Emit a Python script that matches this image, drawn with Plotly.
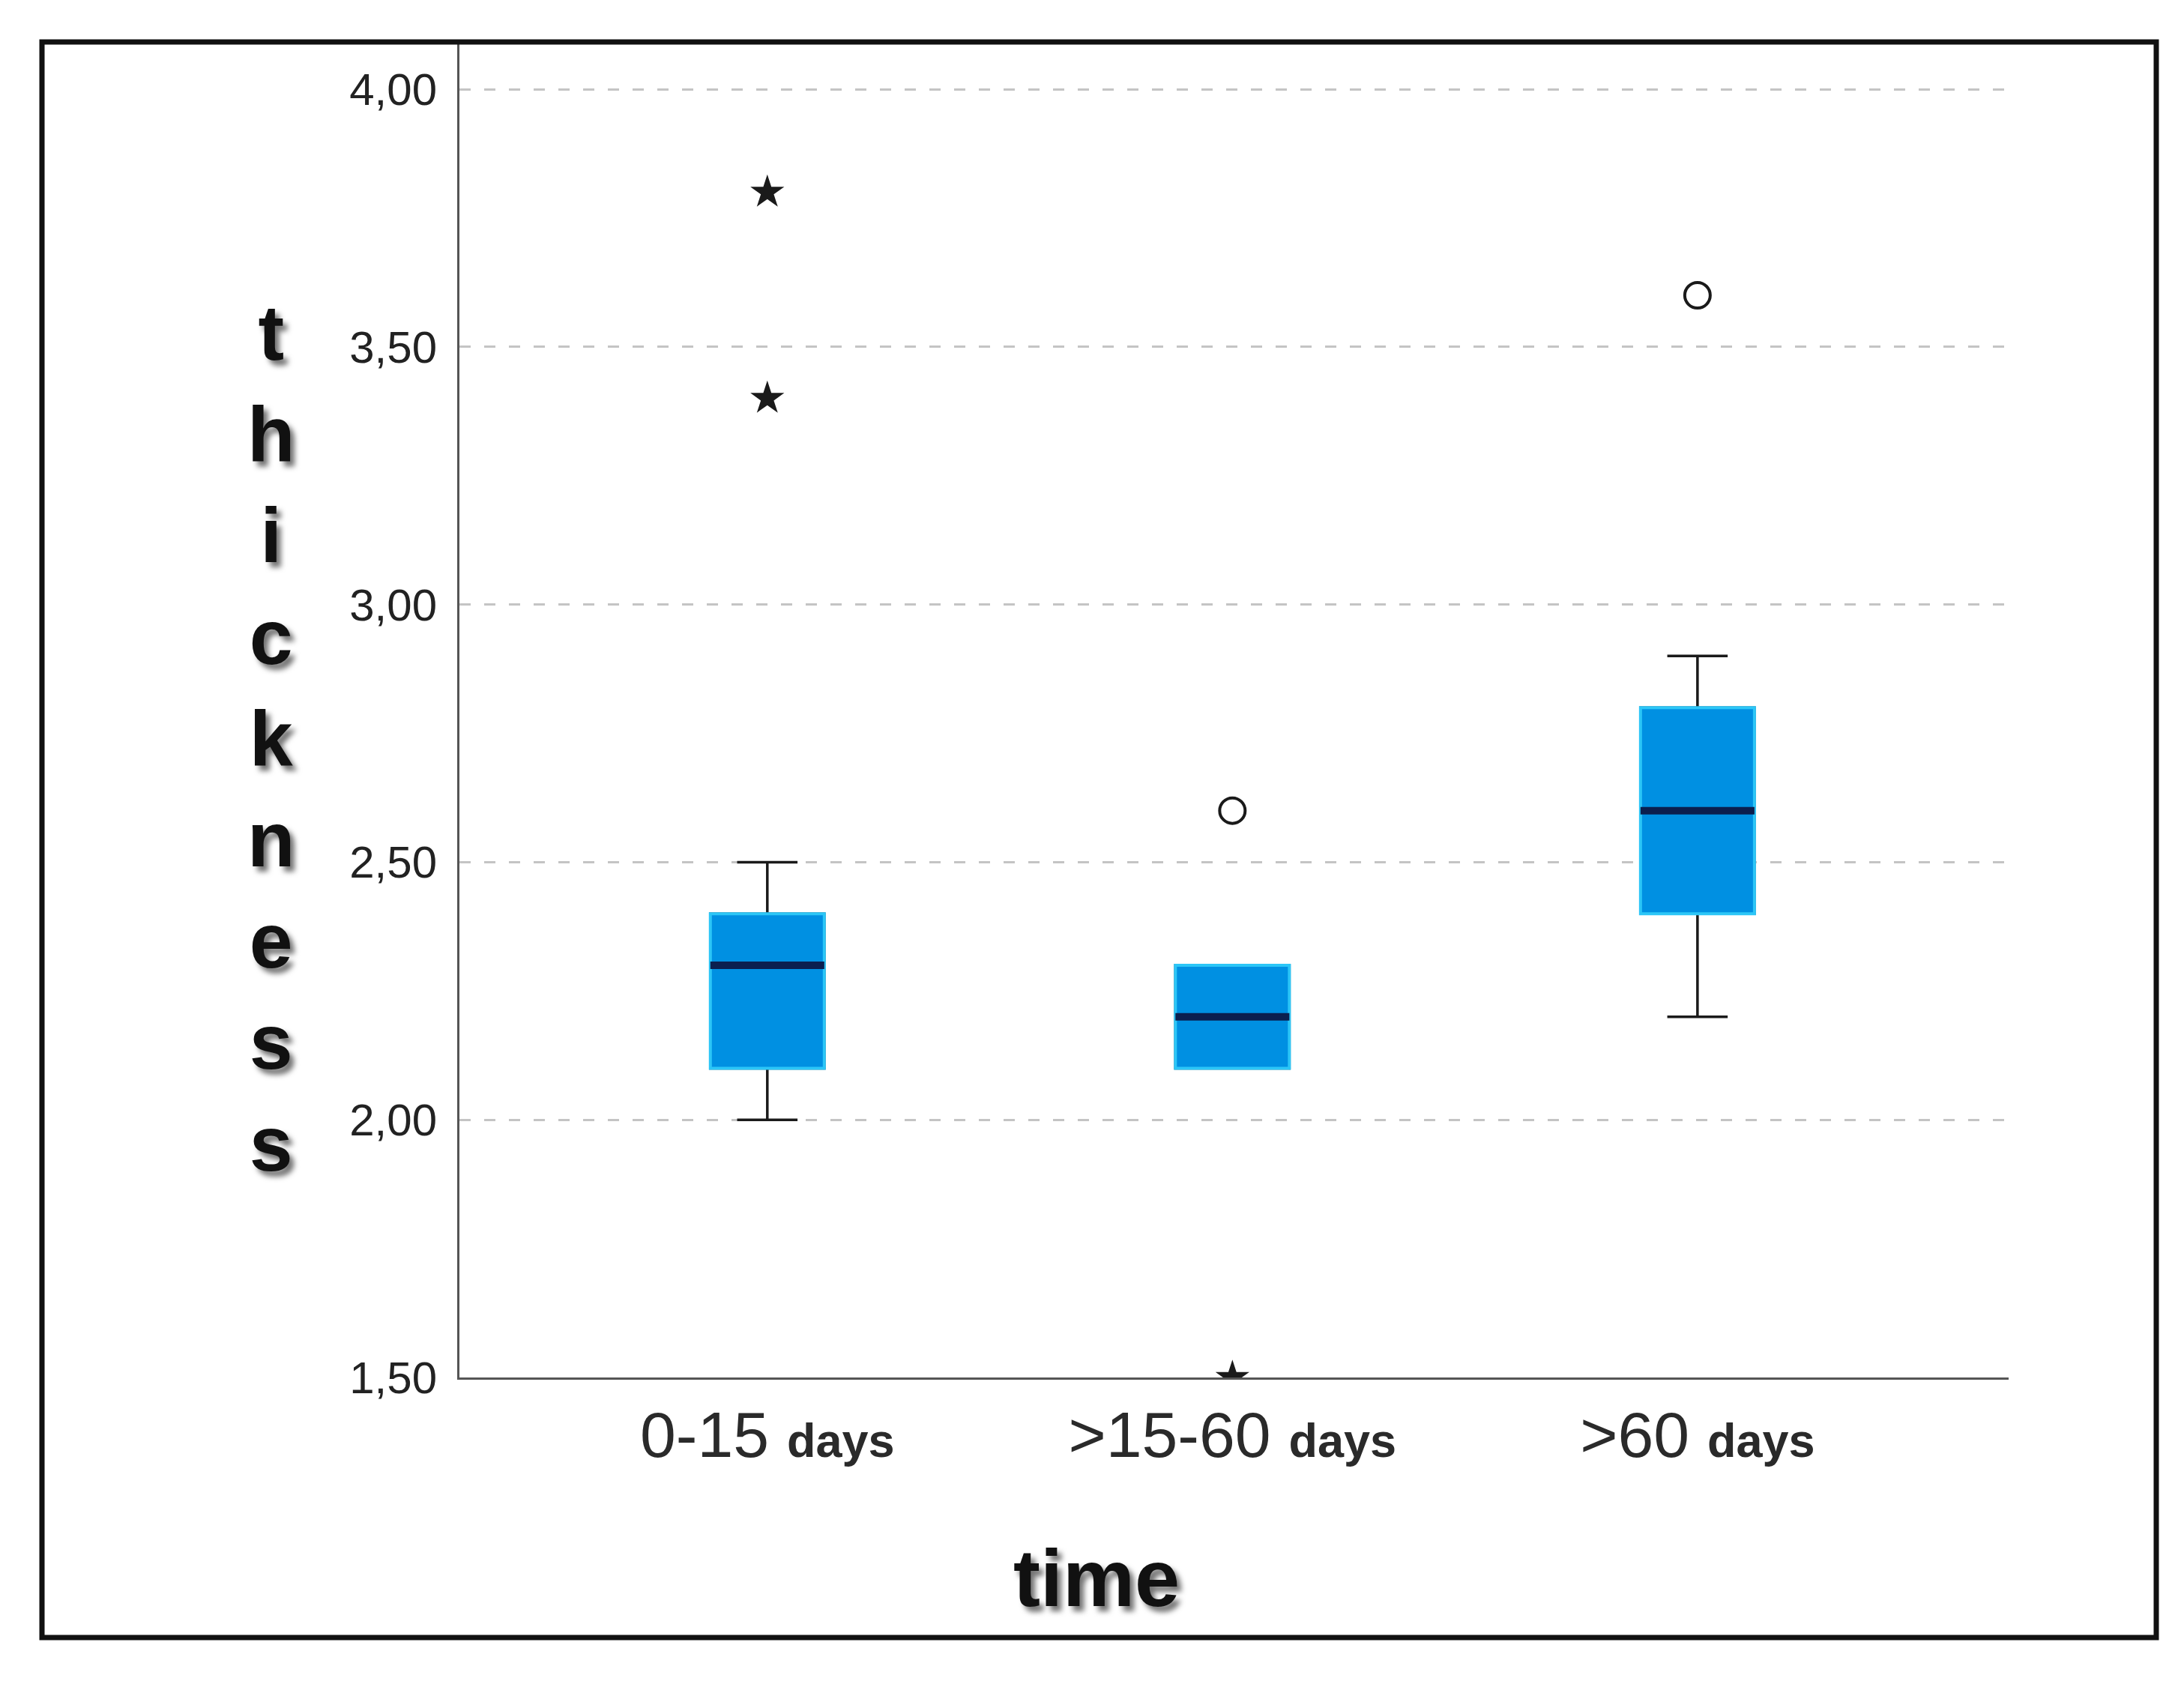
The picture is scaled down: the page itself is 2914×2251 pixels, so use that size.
import plotly.graph_objects as go

# ---- data ----
categories = ["0-15", ">15-60", ">60"]
q1 = [2.1, 2.1, 2.4]
median = [2.3, 2.2, 2.6]
q3 = [2.4, 2.3, 2.8]
lower_whisker = [2.0, 2.1, 2.2]
upper_whisker = [2.5, 2.3, 2.9]
extreme_x = ["0-15", "0-15", ">15-60"]
extreme_y = [3.8, 3.4, 1.5]
outlier_x = [">15-60", ">60"]
outlier_y = [2.6, 3.6]
y_ticks = [1.5, 2.0, 2.5, 3.0, 3.5, 4.0]
y_tick_labels = ["1,50", "2,00", "2,50", "3,00", "3,50", "4,00"]
x_tick_labels = ["0-15 <b><span style='font-size:63px'>days</span></b>",
                 ">15-60 <b><span style='font-size:63px'>days</span></b>",
                 ">60 <b><span style='font-size:63px'>days</span></b>"]

W, H = 2914, 2251
OFF = 8  # page body margin
PL, PR, PT, PB = 613 - OFF, 2680 - OFF, 59 - OFF, 1838 - OFF

BOX_W = 0.245
FILL = "#0090e2"
EDGE = "#2cc6f7"
MED = "#0b1f4f"

fig = go.Figure()

# whiskers (black)
fig.add_trace(go.Box(
    x=categories, q1=q1, median=median, q3=q3,
    lowerfence=lower_whisker, upperfence=upper_whisker,
    width=BOX_W, whiskerwidth=0.53, boxpoints=False,
    line=dict(color="#1a1a1a", width=3.5), fillcolor="rgba(0,0,0,0)",
    hoverinfo="skip", showlegend=False))
# box body
fig.add_trace(go.Box(
    x=categories, q1=q1, median=median, q3=q3,
    lowerfence=q1, upperfence=q3,
    width=BOX_W, whiskerwidth=0, boxpoints=False,
    line=dict(color=EDGE, width=4), fillcolor=FILL,
    hoverinfo="skip", showlegend=False))
# median line
fig.add_trace(go.Box(
    x=categories, q1=median, median=median, q3=median,
    lowerfence=median, upperfence=median,
    width=BOX_W, whiskerwidth=0, boxpoints=False,
    line=dict(color=MED, width=10), fillcolor="rgba(0,0,0,0)",
    hoverinfo="skip", showlegend=False))

# extremes (stars)
fig.add_trace(go.Scatter(
    x=extreme_x, y=extreme_y, mode="markers",
    marker=dict(symbol="star", size=34, color="#1a1a1a",
                line=dict(color="#1a1a1a", width=0)),
    cliponaxis=True, showlegend=False, hoverinfo="skip"))
# outliers (circles)
fig.add_trace(go.Scatter(
    x=outlier_x, y=outlier_y, mode="markers",
    marker=dict(symbol="circle-open", size=34, color="#1a1a1a",
                line=dict(color="#1a1a1a", width=4)),
    cliponaxis=False, showlegend=False, hoverinfo="skip"))

def px_x(px):
    return (px - OFF - PL) / (PR - PL)

def px_y(py):
    return (PB - (py - OFF)) / (PB - PT)

shadow = "6px 7px 7px rgba(0,0,0,0.55)"

fig.add_annotation(
    xref="paper", yref="paper", x=px_x(362), y=px_y(985),
    xanchor="center", yanchor="middle", showarrow=False, align="center",
    text="<br>".join(list("thickness")),
    font=dict(family="Liberation Sans, Arial, sans-serif", size=104,
              color="#111111", weight="bold", shadow=shadow))
fig.add_annotation(
    xref="paper", yref="paper", x=px_x(1463), y=px_y(2105),
    xanchor="center", yanchor="middle", showarrow=False,
    text="time",
    font=dict(family="Liberation Sans, Arial, sans-serif", size=108,
              color="#111111", weight="bold", shadow=shadow))

# outer frame
fig.add_shape(type="rect", xref="paper", yref="paper",
              x0=px_x(56), x1=px_x(2877), y0=px_y(2185), y1=px_y(56),
              line=dict(color="#111111", width=7), layer="above")

fig.update_layout(
    width=W, height=H,
    margin=dict(l=PL, r=W - PR, t=PT, b=H - PB, pad=0),
    paper_bgcolor="white", plot_bgcolor="white",
    boxmode="overlay", showlegend=False,
    font=dict(family="Liberation Sans, Arial, sans-serif", color="#222222"),
    xaxis=dict(
        type="category", categoryorder="array", categoryarray=categories,
        range=[-0.662, 2.669], tickmode="array", tickvals=categories,
        ticktext=x_tick_labels, showgrid=False, zeroline=False,
        showline=True, linecolor="#555555", linewidth=3, ticks="",
        tickfont=dict(size=86, color="#2a2a2a"), ticklabelstandoff=0),
    yaxis=dict(
        range=[1.5, 4.0873], tickmode="array", tickvals=y_ticks,
        ticktext=y_tick_labels, showgrid=True, gridcolor="#c4c4c4",
        gridwidth=3, griddash="15px,18px", zeroline=False,
        showline=True, linecolor="#555555", linewidth=3, ticks="",
        tickfont=dict(size=60, color="#222222"), ticklabelstandoff=15),
)

fig.write_html("out.html")
